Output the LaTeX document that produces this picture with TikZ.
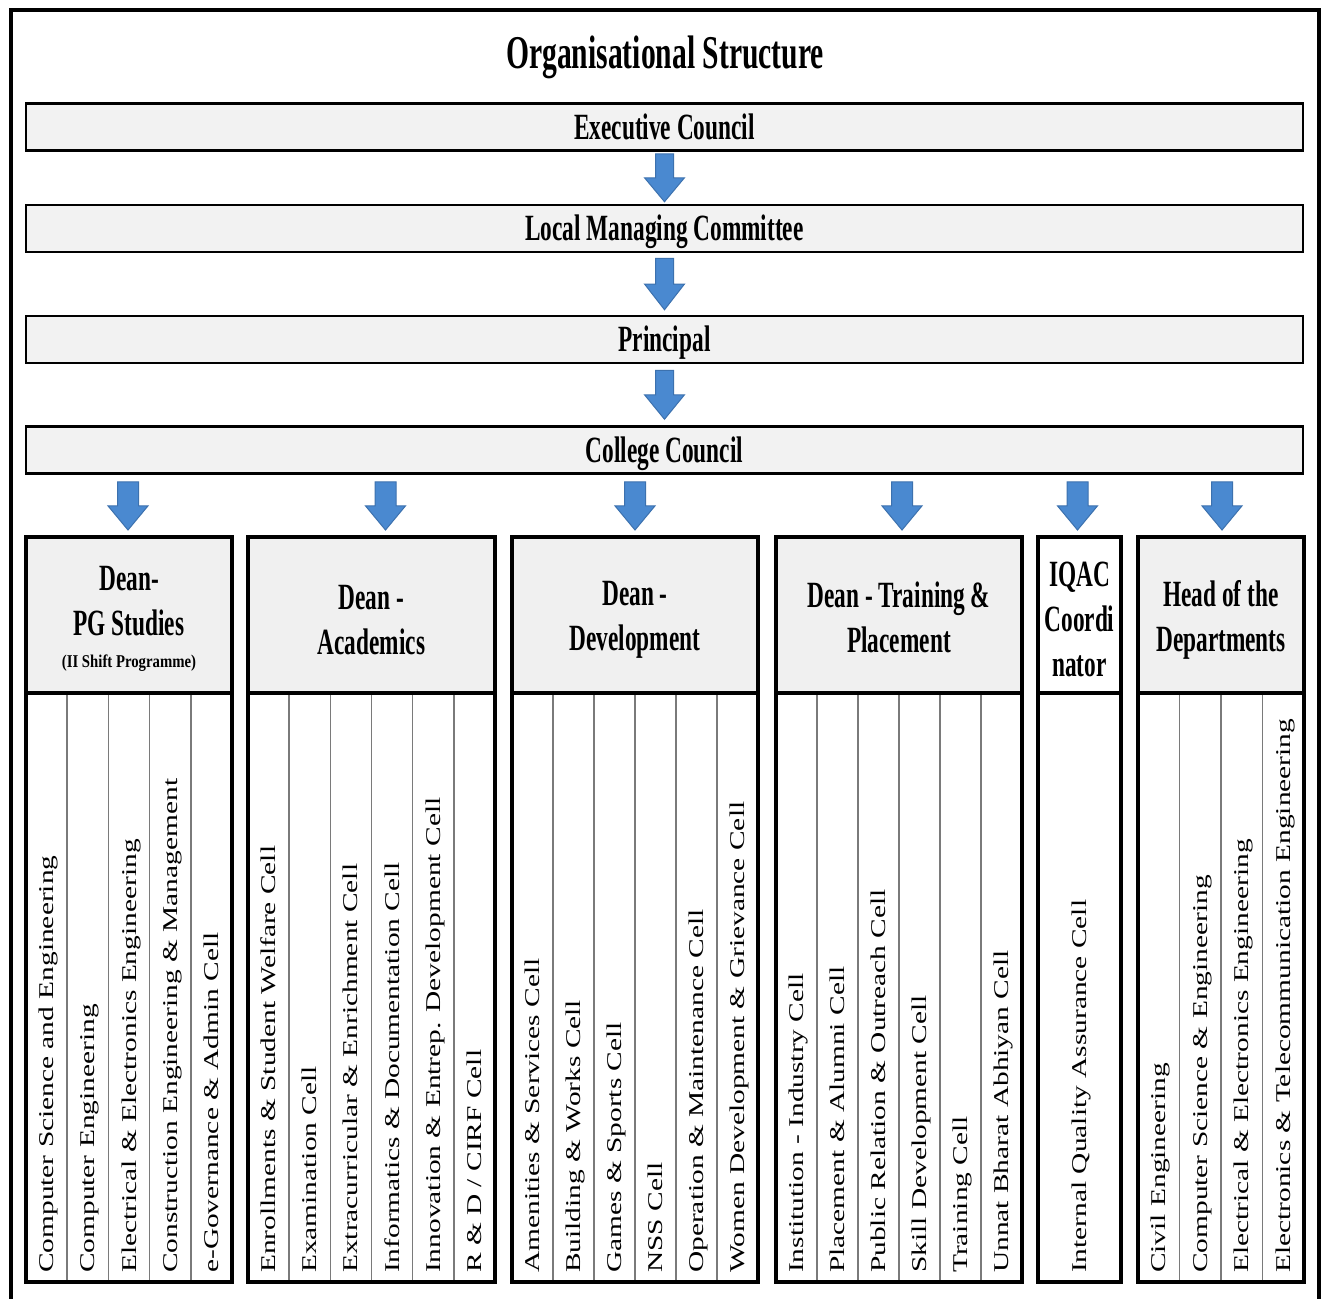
\documentclass[tikz,border=0pt]{standalone}
\usepackage{fontspec}
\setmainfont{Liberation Serif}
\newfontfamily\hdfont[FakeStretch=0.63]{Liberation Serif}
\newfontfamily\smfont[FakeStretch=0.82]{Liberation Serif}
\newfontfamily\colfont[FakeStretch=1.40]{Liberation Serif}
\usetikzlibrary{calc}
\definecolor{arrowblue}{HTML}{4A89D0}
\definecolor{arrowedge}{HTML}{3C71AE}
\definecolor{barfill}{HTML}{F2F2F2}
\definecolor{hdrfill}{HTML}{F0F0F0}
\definecolor{divgray}{HTML}{7A7A7A}
\newcommand{\blockarr}[4]{%
  \draw[blockarrow] let \p1=(#1), \p2=(#2), \p3=($(#1)!0.5!(#2)$) in
   (\x2-#3,\y1) -- (\x2+#3,\y1) -- (\x2+#3,\y3) -- (\x2+#4,\y3) -- (\x2,\y2)
   -- (\x2-#4,\y3) -- (\x2-#3,\y3) -- cycle;}
\begin{document}
\begin{tikzpicture}[x=1pt,y=-1pt,
  frame/.style={draw=black, line width=3.5pt},
  titletext/.style={inner sep=0pt, text height=31pt, text depth=0pt,
    font=\hdfont\bfseries\fontsize{47}{50}\selectfont},
  bar/.style={draw=black, line width=2.5pt, fill=barfill, minimum width=1277pt,
    minimum height=47pt, inner sep=0pt, text height=24pt, text depth=0pt,
    font=\hdfont\bfseries\fontsize{37}{40}\selectfont},
  hdr/.style={draw=black, line width=4pt, fill=hdrfill, inner sep=0pt,
    minimum height=156pt},
  hdrtext/.style={inner sep=0pt, align=center,
    font=\hdfont\bfseries\fontsize{37}{45}\selectfont},
  colbox/.style={draw=black, line width=4pt, fill=white},
  divider/.style={draw=divgray, line width=1.6pt},
  coltext/.style={rotate=90, anchor=west, inner sep=0pt, text height=14pt, text depth=0pt,
    font=\colfont\fontsize{21}{21}\selectfont},
  blockarrow/.style={fill=arrowblue, draw=arrowedge, line width=1pt, line join=miter}
]
\useasboundingbox (0,0) rectangle (1326,1299);
\fill[white] (0,0) rectangle (1326,1299);
% outer frame (bottom edge cut off)
\draw[frame] (11,1299) -- (11,10) -- (1319,10) -- (1319,1299);

\node[titletext] (title) at (665,53) {Organisational Structure};

% horizontal bars
\node[bar] (ec)   at (664.5,127)   {Executive Council};
\node[bar] (lmc)  at (664.5,228.5) {Local Managing Committee};
\node[bar] (prin) at (664.5,339.5) {Principal};
\node[bar] (cc)   at (664.5,450)   {College Council};

% arrows between bars
\coordinate (a1s) at ($(ec.south)+(0,2)$);   \coordinate (a1e) at ($(lmc.north)+(0,-2)$);
\coordinate (a2s) at ($(lmc.south)+(0,5)$);  \coordinate (a2e) at ($(prin.north)+(0,-5)$);
\coordinate (a3s) at ($(prin.south)+(0,6)$); \coordinate (a3e) at ($(cc.north)+(0,-6)$);
\blockarr{a1s}{a1e}{9pt}{20pt}
\blockarr{a2s}{a2e}{9pt}{20pt}
\blockarr{a3s}{a3e}{9pt}{20pt}

% ---------- column boxes ----------
% PG studies
\draw[colbox] (26,693) rectangle (232,1282);
\foreach \k in {1,...,4} \draw[divider] ({26+\k*206/5},695) -- ({26+\k*206/5},1280);
\node[hdr, minimum width=206pt] (pgh) at (129,615) {};
\node[hdrtext] (pgt) at ($(pgh.center)+(0,4)$)
  {Dean-\\PG Studies\\[-13pt]{\smfont\bfseries\fontsize{18}{22}\selectfont (II Shift Programme)}};
\foreach \t [count=\i] in {Computer Science and Engineering, Computer Engineering,
  Electrical \& Electronics Engineering, Construction Engineering \& Management,
  e-Governance \& Admin Cell}
  \node[coltext] (pg\i) at ({26+(\i-0.5)*206/5},1273) {\t};

% Academics
\draw[colbox] (248,693) rectangle (495,1282);
\foreach \k in {1,...,5} \draw[divider] ({248+\k*247/6},695) -- ({248+\k*247/6},1280);
\node[hdr, minimum width=247pt] (acadh) at (371.5,615) {};
\node[hdrtext] (acadt) at ($(acadh.center)+(0,5)$) {Dean -\\Academics};
\foreach \t [count=\i] in {Enrollments \& Student Welfare Cell, Examination Cell,
  Extracurricular \& Enrichment Cell, Informatics \& Documentation Cell,
  Innovation \& Entrep. Development Cell, R \& D / CIRF Cell}
  \node[coltext] (ac\i) at ({248+(\i-0.5)*247/6},1273) {\t};

% Development
\draw[colbox] (512,693) rectangle (758,1282);
\foreach \k in {1,...,5} \draw[divider] ({512+\k*246/6},695) -- ({512+\k*246/6},1280);
\node[hdr, minimum width=246pt] (devh) at (635,615) {};
\node[hdrtext] (devt) at ($(devh.center)+(0,5)$) {Dean -\\Development};
\foreach \t [count=\i] in {Amenities \& Services Cell, Building \& Works Cell,
  Games \& Sports Cell, NSS Cell, Operation \& Maintenance Cell,
  Women Development \& Grievance Cell}
  \node[coltext] (dv\i) at ({512+(\i-0.5)*246/6},1273) {\t};

% Training & Placement
\draw[colbox] (776,693) rectangle (1022,1282);
\foreach \k in {1,...,5} \draw[divider] ({776+\k*246/6},695) -- ({776+\k*246/6},1280);
\node[hdr, minimum width=246pt] (trnh) at (899,615) {};
\node[hdrtext] (trnt) at ($(trnh.center)+(0,2)$) {Dean - Training \&\\Placement};
\foreach \t [count=\i] in {Institution - Industry Cell, Placement \& Alumni Cell,
  Public Relation \& Outreach Cell, Skill Development Cell, Training Cell,
  Unnat Bharat Abhiyan Cell}
  \node[coltext] (tr\i) at ({776+(\i-0.5)*246/6},1273) {\t};

% IQAC
\draw[colbox] (1038,693) rectangle (1121,1282);
\node[hdr, fill=white, minimum width=83pt] (iqach) at (1079.5,615) {};
\node[hdrtext] (iqact) at ($(iqach.center)+(0,4)$) {IQAC\\Coordi\\nator};
\node[coltext] (iq1) at (1079.5,1273) {Internal Quality Assurance Cell};

% Heads of departments
\draw[colbox] (1138,693) rectangle (1304,1282);
\foreach \k in {1,...,3} \draw[divider] ({1138+\k*166/4},695) -- ({1138+\k*166/4},1280);
\node[hdr, minimum width=166pt] (hodh) at (1221,615) {};
\node[hdrtext] (hodt) at ($(hodh.center)+(0,5)$) {Head of the\\Departments};
\foreach \t [count=\i] in {Civil Engineering, Computer Science \& Engineering,
  Electrical \& Electronics Engineering, Electronics \& Telecommunication Engineering}
  \node[coltext] (hd\i) at ({1138+(\i-0.5)*166/4},1273) {\t};

% arrows from College Council to the boxes
\coordinate (b1s) at ($(pgh.north |- cc.south)+(-1,7)$);   \coordinate (b1e) at ($(pgh.north)+(-1,-5)$);
\coordinate (b2s) at ($(acadh.north |- cc.south)+(14,7)$); \coordinate (b2e) at ($(acadh.north)+(14,-5)$);
\coordinate (b3s) at ($(devh.north |- cc.south)+(0,7)$);   \coordinate (b3e) at ($(devh.north)+(0,-5)$);
\coordinate (b4s) at ($(trnh.north |- cc.south)+(3,7)$);   \coordinate (b4e) at ($(trnh.north)+(3,-5)$);
\coordinate (b5s) at ($(iqach.north |- cc.south)+(-2,7)$); \coordinate (b5e) at ($(iqach.north)+(-2,-5)$);
\coordinate (b6s) at ($(hodh.north |- cc.south)+(1,7)$);   \coordinate (b6e) at ($(hodh.north)+(1,-5)$);
\foreach \j in {1,...,6} {\blockarr{b\j s}{b\j e}{10.5pt}{20pt}}
\end{tikzpicture}
\end{document}
